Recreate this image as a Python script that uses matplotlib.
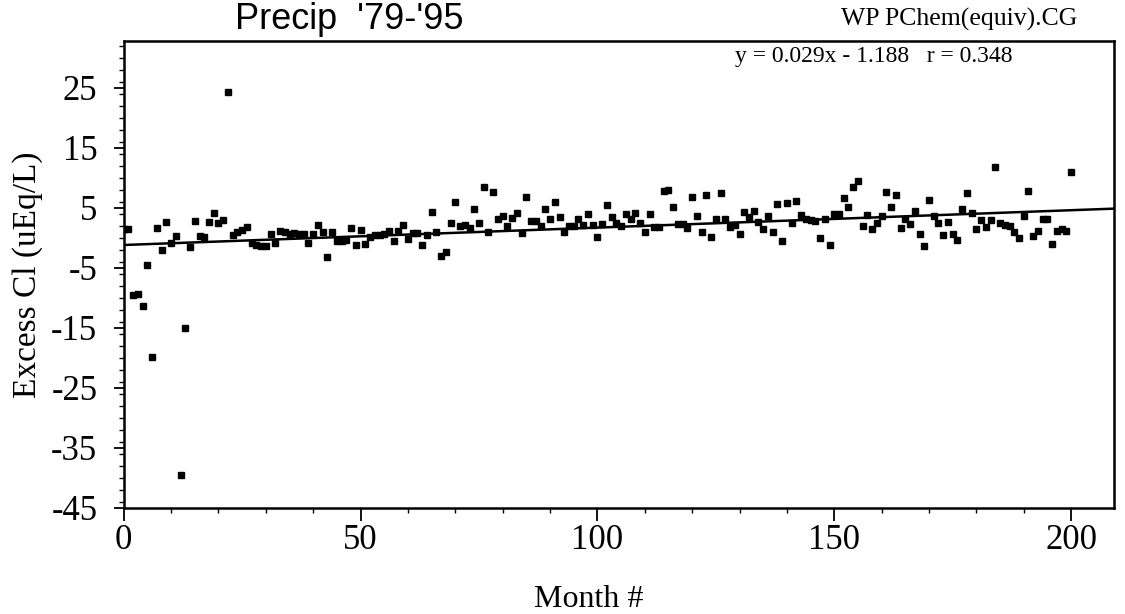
import numpy as np
import matplotlib
matplotlib.use("Agg")
import matplotlib.pyplot as plt
from matplotlib.ticker import MultipleLocator

plt.rcParams["axes.unicode_minus"] = False

# month number and excess Cl (uEq/L)
month = list(range(0, 201))
excess_cl = [
    1.5, 1.4, -9.5, -9.3, -11.3, -4.6, -19.9, 1.7, -2.1, 2.7,        # 0-9
    -0.8, 0.3, -39.6, -15.1, -1.5, 2.8, 0.3, 0.1, 2.7, 4.2,          # 10-19
    2.4, 3.0, 24.3, 0.4, 0.9, 1.3, 1.8, -0.9, -1.2, -1.4,            # 20-29
    -1.4, 0.6, -0.9, 1.2, 0.9, 0.7, 0.8, 0.7, 0.7, -0.9,             # 30-39
    0.6, 2.1, 0.9, -3.2, 0.9, -0.5, -0.6, -0.4, 1.7, -1.2,           # 40-49
    1.3, -1.0, 0.2, 0.4, 0.5, 0.7, 1.1, -0.5, 1.2, 2.2,              # 50-59
    -0.2, 0.8, 0.8, -1.2, 0.5, 4.3, 0.9, -3.0, -2.3, 2.5,            # 60-69
    5.9, 1.9, 2.2, 1.6, 4.8, 2.5, 8.5, 0.9, 7.6, 3.2,                # 70-79
    3.7, 2.0, 3.3, 4.1, 0.8, 6.8, 2.8, 2.8, 2.0, 4.8,                # 80-89
    3.1, 6.0, 3.4, 0.9, 1.9, 1.9, 3.2, 2.2, 3.9, 2.2,                # 90-99
    0.2, 2.3, 5.4, 3.4, 2.5, 1.9, 4.0, 3.1, 4.1, 2.5,                # 100-109
    1.0, 4.0, 1.8, 1.8, 7.8, 8.0, 5.1, 2.3, 2.3, 1.7,                # 110-119
    6.8, 3.6, 1.0, 7.2, 0.1, 3.1, 7.4, 3.1, 1.8, 2.2,                # 120-129
    0.6, 4.3, 3.4, 4.4, 2.7, 1.5, 3.6, 1.0, 5.7, -0.5,               # 130-139
    5.8, 2.4, 6.2, 3.8, 3.1, 2.9, 2.8, 0.0, 3.1, -1.2,               # 140-149
    4.0, 4.0, 6.7, 5.2, 8.4, 9.4, 1.9, 3.8, 1.4, 2.4,                # 150-159
    3.7, 7.7, 5.1, 7.2, 1.6, 3.1, 2.3, 4.4, 0.7, -1.4,               # 160-169
    6.3, 3.6, 2.5, 0.4, 2.7, 0.6, -0.4, 4.8, 7.5, 4.2,               # 170-179
    1.5, 2.9, 1.8, 2.9, 11.8, 2.4, 2.2, 2.0, 1.0, 0.0,               # 180-189
    3.6, 7.8, 0.3, 1.1, 3.2, 3.2, -1.0, 1.2, 1.4, 1.2,               # 190-199
    10.9,                                                            # 200
]

slope = 0.029
intercept = -1.188
r_value = 0.348

serif = ["Liberation Serif", "DejaVu Serif"]
sans = ["Liberation Sans", "DejaVu Sans"]

fig = plt.figure(figsize=(11.25, 6.14), dpi=100)
ax = fig.add_axes([0.110, 0.173, 0.880, 0.760])

ax.plot(month, excess_cl, linestyle="none", marker="s", markersize=4.0,
        color="black")

xfit = np.array([0, 209])
ax.plot(xfit, slope * xfit + intercept, color="black", linewidth=1.8)

ax.set_xlim(0, 209)
ax.set_ylim(-45, 32.8)

ax.xaxis.set_major_locator(MultipleLocator(50))
ax.xaxis.set_minor_locator(MultipleLocator(10))
ax.set_yticks([25, 15, 5, -5, -15, -25, -35, -45])
ax.yaxis.set_minor_locator(MultipleLocator(2))

ax.tick_params(axis="both", which="major", direction="out", length=7,
               width=1.3, labelsize=25)
ax.tick_params(axis="both", which="minor", direction="out", length=3.5,
               width=1.0)
ax.tick_params(axis="y", which="major", pad=12)
ax.tick_params(axis="x", which="major", length=9, pad=3)
for lab in ax.get_xticklabels() + ax.get_yticklabels():
    lab.set_family(serif)

for s in ax.spines.values():
    s.set_linewidth(1.8)

ax.set_xlabel("Month #", family=serif, fontsize=23)
ax.xaxis.set_label_coords(0.47, -0.165)
ax.set_ylabel("Excess Cl (uEq/L)", family=serif, fontsize=24)
ax.yaxis.set_label_coords(-0.082, 0.5)

fig.text(0.209, 0.968, "Precip  '79-'95", family=sans, fontsize=26,
         va="center", ha="left")
fig.text(0.958, 0.968, "WP PChem(equiv).CG", family=serif, fontsize=18.5,
         va="center", ha="right")
ax.text(0.617, 0.99,
        "y = %.3fx - %.3f   r = %.3f" % (slope, -intercept, r_value),
        transform=ax.transAxes, family=serif, fontsize=17,
        va="top", ha="left")

fig.savefig("out.png", dpi=100)
